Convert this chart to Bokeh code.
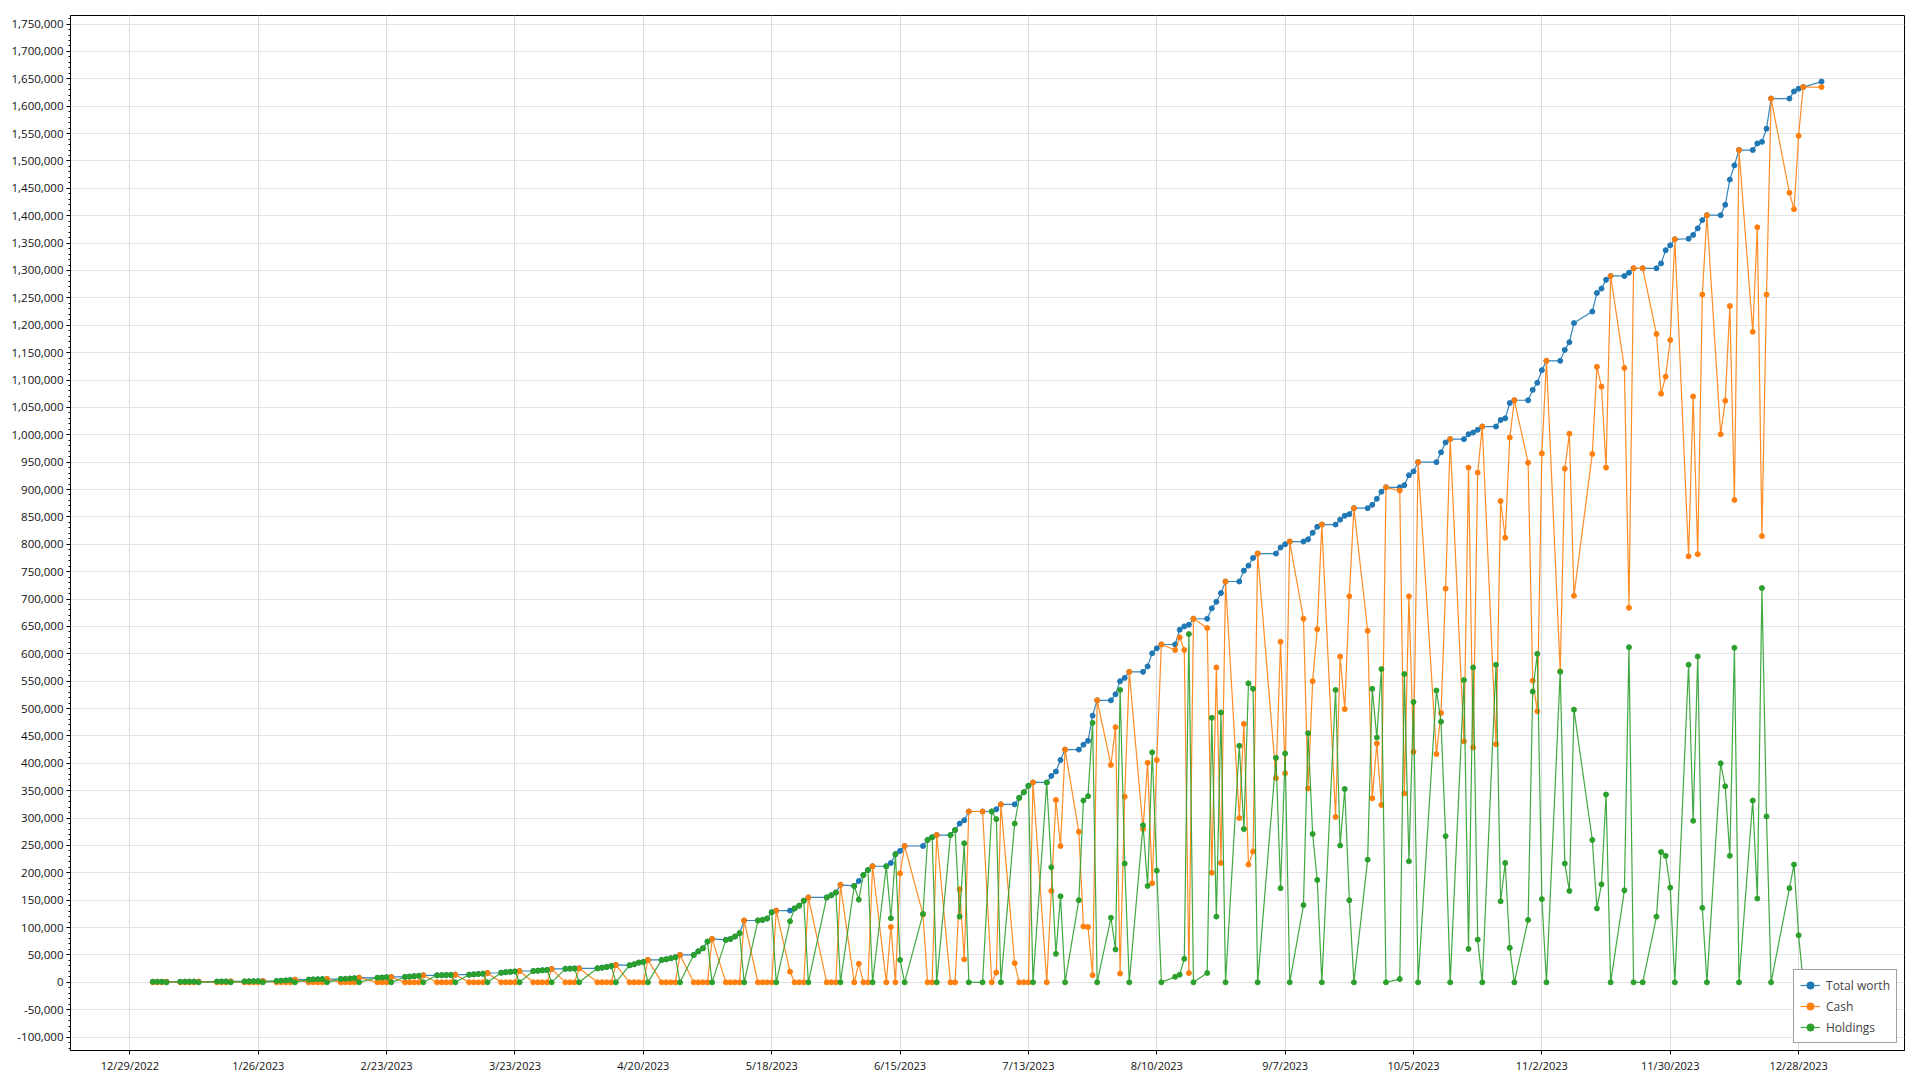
import pandas as pd
from bokeh.plotting import figure
from bokeh.models import (ColumnDataSource, FixedTicker, SingleIntervalTicker,
                          NumeralTickFormatter, Range1d, Legend, LegendItem)
from bokeh.embed import file_html
from bokeh.resources import INLINE

# ---------------- data ----------------
DATES = [
    "2023-01-03", "2023-01-04", "2023-01-05", "2023-01-06",
    "2023-01-09", "2023-01-10", "2023-01-11", "2023-01-12", "2023-01-13",
    "2023-01-17", "2023-01-18", "2023-01-19", "2023-01-20",
    "2023-01-23", "2023-01-24", "2023-01-25", "2023-01-26", "2023-01-27",
    "2023-01-30", "2023-01-31", "2023-02-01", "2023-02-02", "2023-02-03",
    "2023-02-06", "2023-02-07", "2023-02-08", "2023-02-09", "2023-02-10",
    "2023-02-13", "2023-02-14", "2023-02-15", "2023-02-16", "2023-02-17",
    "2023-02-21", "2023-02-22", "2023-02-23", "2023-02-24",
    "2023-02-27", "2023-02-28", "2023-03-01", "2023-03-02", "2023-03-03",
    "2023-03-06", "2023-03-07", "2023-03-08", "2023-03-09", "2023-03-10",
    "2023-03-13", "2023-03-14", "2023-03-15", "2023-03-16", "2023-03-17",
    "2023-03-20", "2023-03-21", "2023-03-22", "2023-03-23", "2023-03-24",
    "2023-03-27", "2023-03-28", "2023-03-29", "2023-03-30", "2023-03-31",
    "2023-04-03", "2023-04-04", "2023-04-05", "2023-04-06",
    "2023-04-10", "2023-04-11", "2023-04-12", "2023-04-13", "2023-04-14",
    "2023-04-17", "2023-04-18", "2023-04-19", "2023-04-20", "2023-04-21",
    "2023-04-24", "2023-04-25", "2023-04-26", "2023-04-27", "2023-04-28",
    "2023-05-01", "2023-05-02", "2023-05-03", "2023-05-04", "2023-05-05",
    "2023-05-08", "2023-05-09", "2023-05-10", "2023-05-11", "2023-05-12",
    "2023-05-15", "2023-05-16", "2023-05-17", "2023-05-18", "2023-05-19",
    "2023-05-22", "2023-05-23", "2023-05-24", "2023-05-25", "2023-05-26",
    "2023-05-30", "2023-05-31", "2023-06-01", "2023-06-02",
    "2023-06-05", "2023-06-06", "2023-06-07", "2023-06-08", "2023-06-09",
    "2023-06-12", "2023-06-13", "2023-06-14", "2023-06-15", "2023-06-16",
    "2023-06-20", "2023-06-21", "2023-06-22", "2023-06-23",
    "2023-06-26", "2023-06-27", "2023-06-28", "2023-06-29", "2023-06-30",
    "2023-07-03", "2023-07-05", "2023-07-06", "2023-07-07",
    "2023-07-10", "2023-07-11", "2023-07-12", "2023-07-13", "2023-07-14",
    "2023-07-17", "2023-07-18", "2023-07-19", "2023-07-20", "2023-07-21",
    "2023-07-24", "2023-07-25", "2023-07-26", "2023-07-27", "2023-07-28",
    "2023-07-31", "2023-08-01", "2023-08-02", "2023-08-03", "2023-08-04",
    "2023-08-07", "2023-08-08", "2023-08-09", "2023-08-10", "2023-08-11",
    "2023-08-14", "2023-08-15", "2023-08-16", "2023-08-17", "2023-08-18",
    "2023-08-21", "2023-08-22", "2023-08-23", "2023-08-24", "2023-08-25",
    "2023-08-28", "2023-08-29", "2023-08-30", "2023-08-31", "2023-09-01",
    "2023-09-05", "2023-09-06", "2023-09-07", "2023-09-08",
    "2023-09-11", "2023-09-12", "2023-09-13", "2023-09-14", "2023-09-15",
    "2023-09-18", "2023-09-19", "2023-09-20", "2023-09-21", "2023-09-22",
    "2023-09-25", "2023-09-26", "2023-09-27", "2023-09-28", "2023-09-29",
    "2023-10-02", "2023-10-03", "2023-10-04", "2023-10-05", "2023-10-06",
    "2023-10-10", "2023-10-11", "2023-10-12", "2023-10-13",
    "2023-10-16", "2023-10-17", "2023-10-18", "2023-10-19", "2023-10-20",
    "2023-10-23", "2023-10-24", "2023-10-25", "2023-10-26", "2023-10-27",
    "2023-10-30", "2023-10-31", "2023-11-01", "2023-11-02", "2023-11-03",
    "2023-11-06", "2023-11-07", "2023-11-08", "2023-11-09",
    "2023-11-13", "2023-11-14", "2023-11-15", "2023-11-16", "2023-11-17",
    "2023-11-20", "2023-11-21", "2023-11-22", "2023-11-24",
    "2023-11-27", "2023-11-28", "2023-11-29", "2023-11-30", "2023-12-01",
    "2023-12-04", "2023-12-05", "2023-12-06", "2023-12-07", "2023-12-08",
    "2023-12-11", "2023-12-12", "2023-12-13", "2023-12-14", "2023-12-15",
    "2023-12-18", "2023-12-19", "2023-12-20", "2023-12-21", "2023-12-22",
    "2023-12-26", "2023-12-27", "2023-12-28", "2023-12-29",
    "2024-01-02",
]

TOTAL = [
    1000, 1020, 1060, 1100,
    1100, 1150, 1200, 1250, 1300,
    1350, 1400, 1500, 1600,
    1650, 1750, 1850, 2000, 2400,
    2500, 2900, 3400, 4000, 4900,
    4900, 5200, 5500, 5800, 6100,
    6000, 6300, 6800, 7400, 8500,
    8300, 8700, 9200, 9800,
    9800, 10500, 11200, 12000, 12800,
    12800, 13000, 13200, 13500, 14000,
    14000, 14500, 15200, 15800, 17000,
    17500, 18500, 19200, 19800, 20700,
    20700, 21300, 22000, 22600, 24400,
    24700, 25000, 25300, 25600,
    25600, 26800, 28000, 29900, 31700,
    31100, 32900, 36000, 37200, 40900,
    40900, 42100, 43900, 45800, 50000,
    50000, 56700, 62200, 74400, 79300,
    77500, 79300, 83600, 89700, 112900,
    112900, 114000, 116500, 128000, 131000,
    131000, 135000, 140000, 149000, 155000,
    155000, 159000, 164000, 178000,
    176000, 185000, 196000, 205000, 212000,
    212000, 218000, 234000, 240000, 249000,
    249000, 260000, 265000, 269000,
    269000, 278000, 290000, 296000, 312000,
    312000, 312000, 316000, 325000,
    325000, 337000, 347000, 359000, 365000,
    365000, 377000, 385000, 406000, 425000,
    425000, 434000, 441000, 487000, 515000,
    515000, 526000, 550000, 556000, 567000,
    567000, 577000, 601000, 610000, 617000,
    617000, 644000, 650000, 653000, 664000,
    664000, 683000, 695000, 711000, 732000,
    732000, 752000, 761000, 775000, 783000,
    783000, 794000, 800000, 805000,
    805000, 809000, 821000, 832000, 836000,
    836000, 845000, 852000, 855000, 866000,
    866000, 872000, 883000, 896000, 904000,
    904000, 908000, 926000, 933000, 950000,
    950000, 968000, 986000, 992000,
    992000, 1001000, 1004000, 1009000, 1015000,
    1015000, 1027000, 1030000, 1058000, 1063000,
    1063000, 1082000, 1095000, 1118000, 1135000,
    1135000, 1155000, 1169000, 1204000,
    1225000, 1259000, 1267000, 1283000, 1290000,
    1290000, 1296000, 1304000, 1304000,
    1304000, 1313000, 1337000, 1346000, 1357000,
    1358000, 1365000, 1377000, 1392000, 1401000,
    1401000, 1420000, 1466000, 1492000, 1520000,
    1520000, 1532000, 1535000, 1559000, 1614000,
    1614000, 1627000, 1632000, 1635000,
    1645000,
]

CASH = [
    0, 0, 0, 1100,
    0, 0, 0, 0, 1300,
    0, 0, 0, 1600,
    0, 0, 0, 0, 2400,
    0, 0, 0, 0, 4900,
    0, 0, 0, 0, 6100,
    0, 0, 0, 0, 8500,
    0, 0, 0, 9800,
    0, 0, 0, 0, 12800,
    0, 0, 0, 0, 14000,
    0, 0, 0, 0, 17000,
    0, 0, 0, 0, 20700,
    0, 0, 0, 0, 24400,
    0, 0, 0, 25600,
    0, 0, 0, 0, 31700,
    0, 0, 0, 0, 40900,
    0, 0, 0, 0, 50000,
    0, 0, 0, 0, 79300,
    0, 0, 0, 0, 112900,
    0, 0, 0, 0, 131000,
    19500, 0, 0, 0, 155000,
    0, 0, 0, 178000,
    0, 34000, 0, 0, 212000,
    0, 101000, 0, 199000, 249000,
    124000, 0, 0, 269000,
    0, 0, 170000, 42000, 312000,
    312000, 0, 18000, 325000,
    35000, 0, 0, 0, 365000,
    0, 167000, 333000, 249000, 425000,
    275000, 102000, 101000, 13000, 515000,
    397000, 466000, 16000, 339000, 567000,
    280000, 401000, 181000, 406000, 617000,
    607000, 630000, 607000, 17000, 664000,
    647000, 200000, 575000, 218000, 732000,
    300000, 472000, 215000, 239000, 783000,
    373000, 622000, 382000, 805000,
    664000, 354000, 550000, 645000, 836000,
    302000, 595000, 499000, 705000, 866000,
    642000, 336000, 436000, 324000, 904000,
    898000, 345000, 705000, 421000, 950000,
    417000, 492000, 719000, 992000,
    440000, 940000, 429000, 931000, 1015000,
    435000, 879000, 812000, 995000, 1063000,
    949000, 551000, 495000, 966000, 1135000,
    568000, 938000, 1002000, 706000,
    965000, 1124000, 1088000, 940000, 1290000,
    1122000, 684000, 1304000, 1304000,
    1184000, 1075000, 1106000, 1173000, 1357000,
    778000, 1070000, 782000, 1256000, 1401000,
    1001000, 1062000, 1235000, 881000, 1520000,
    1188000, 1379000, 815000, 1256000, 1614000,
    1442000, 1412000, 1546000, 1635000,
    1635000,
]

HOLDINGS = [
    1000, 1020, 1060, 0,
    1100, 1150, 1200, 1250, 0,
    1350, 1400, 1500, 0,
    1650, 1750, 1850, 2000, 0,
    2500, 2900, 3400, 4000, 0,
    4900, 5200, 5500, 5800, 0,
    6000, 6300, 6800, 7400, 0,
    8300, 8700, 9200, 0,
    9800, 10500, 11200, 12000, 0,
    12800, 13000, 13200, 13500, 0,
    14000, 14500, 15200, 15800, 0,
    17500, 18500, 19200, 19800, 0,
    20700, 21300, 22000, 22600, 0,
    24700, 25000, 25300, 0,
    25600, 26800, 28000, 29900, 0,
    31100, 32900, 36000, 37200, 0,
    40900, 42100, 43900, 45800, 0,
    50000, 56700, 62200, 74400, 0,
    77500, 79300, 83600, 89700, 0,
    112900, 114000, 116500, 128000, 0,
    111500, 135000, 140000, 149000, 0,
    155000, 159000, 164000, 0,
    176000, 151000, 196000, 205000, 0,
    212000, 117000, 234000, 41000, 0,
    125000, 260000, 265000, 0,
    269000, 278000, 120000, 254000, 0,
    0, 312000, 298000, 0,
    290000, 337000, 347000, 359000, 0,
    365000, 210000, 52000, 157000, 0,
    150000, 332000, 340000, 474000, 0,
    118000, 60000, 534000, 217000, 0,
    287000, 176000, 420000, 204000, 0,
    10000, 14000, 43000, 636000, 0,
    17000, 483000, 120000, 493000, 0,
    432000, 280000, 546000, 536000, 0,
    410000, 172000, 418000, 0,
    141000, 455000, 271000, 187000, 0,
    534000, 250000, 353000, 150000, 0,
    224000, 536000, 447000, 572000, 0,
    6000, 563000, 221000, 512000, 0,
    533000, 476000, 267000, 0,
    552000, 61000, 575000, 78000, 0,
    580000, 148000, 218000, 63000, 0,
    114000, 531000, 600000, 152000, 0,
    567000, 217000, 167000, 498000,
    260000, 135000, 179000, 343000, 0,
    168000, 612000, 0, 0,
    120000, 238000, 231000, 173000, 0,
    580000, 295000, 595000, 136000, 0,
    400000, 358000, 231000, 611000, 0,
    332000, 153000, 720000, 303000, 0,
    172000, 215000, 86000, 0,
    10000,
]

TICK_DATES = ["2022-12-29", "2023-01-26", "2023-02-23", "2023-03-23", "2023-04-20",
              "2023-05-18", "2023-06-15", "2023-07-13", "2023-08-10", "2023-09-07",
              "2023-10-05", "2023-11-02", "2023-11-30", "2023-12-28"]
TICK_LABELS = ["12/29/2022", "1/26/2023", "2/23/2023", "3/23/2023", "4/20/2023",
               "5/18/2023", "6/15/2023", "7/13/2023", "8/10/2023", "9/7/2023",
               "10/5/2023", "11/2/2023", "11/30/2023", "12/28/2023"]

SERIES = ["Total worth", "Cash", "Holdings"]
COLORS = ["#1f77b4", "#ff7f0e", "#2ca02c"]

# ---------------- build ----------------
origin = pd.Timestamp(TICK_DATES[0])
xs = [(pd.Timestamp(d) - origin) / pd.Timedelta(days=1) for d in DATES]
tick_pos = [(pd.Timestamp(d) - origin) / pd.Timedelta(days=1) for d in TICK_DATES]

src = ColumnDataSource(dict(x=xs, total=TOTAL, cash=CASH, hold=HOLDINGS))

FONT = "Open Sans"

p = figure(width=1912, height=1077, output_backend="svg", toolbar_location=None,
           x_range=Range1d(-12.95, 387.1), y_range=Range1d(-124500, 1765700),
           min_border_left=70, min_border_right=8, min_border_top=15, min_border_bottom=27,
           background_fill_color="white", border_fill_color="white")
p.outline_line_color = "black"
p.outline_line_width = 1

renderers = []
for col, name, color in zip(["total", "cash", "hold"], SERIES, COLORS):
    l = p.line("x", col, source=src, line_color=color, line_width=1.2, line_alpha=0.9)
    s = p.scatter("x", col, source=src, size=5, fill_color=color, line_color=color)
    renderers.append([l, s])

# x axis
p.xaxis.ticker = FixedTicker(ticks=tick_pos, minor_ticks=[])
p.xaxis.major_label_overrides = {t: lab for t, lab in zip(tick_pos, TICK_LABELS)}
# y axis
p.yaxis.ticker = SingleIntervalTicker(interval=50000, num_minor_ticks=5)
p.yaxis.formatter = NumeralTickFormatter(format="0,0")

for ax in (p.xaxis[0], p.yaxis[0]):
    ax.axis_line_color = "black"
    ax.axis_line_width = 1
    ax.major_tick_line_color = "black"
    ax.minor_tick_line_color = "black"
    ax.major_tick_in = 0
    ax.major_tick_out = 4
    ax.minor_tick_in = 0
    ax.minor_tick_out = 2
    ax.major_label_text_font = FONT
    ax.major_label_text_color = "#111111"
    ax.major_label_standoff = 3
p.xaxis.major_label_text_font_size = "11px"
p.yaxis.major_label_text_font_size = "11.5px"

p.xgrid.ticker = p.xaxis.ticker
p.ygrid.ticker = SingleIntervalTicker(interval=50000)
p.xgrid.grid_line_color = "#dcdcdc"
p.ygrid.grid_line_color = "#e3e3e3"
p.xgrid.grid_line_width = 1
p.ygrid.grid_line_width = 1

legend = Legend(items=[LegendItem(label=n, renderers=r) for n, r in zip(SERIES, renderers)],
                location="bottom_right", margin=7, padding=6, spacing=3,
                glyph_width=20, glyph_height=18, label_height=18, label_standoff=6,
                label_text_font=FONT, label_text_font_size="12px",
                border_line_color="#444444", border_line_width=1.5,
                background_fill_color="white", background_fill_alpha=1.0)
p.add_layout(legend)

open("out.html", "w").write(file_html(p, INLINE))
